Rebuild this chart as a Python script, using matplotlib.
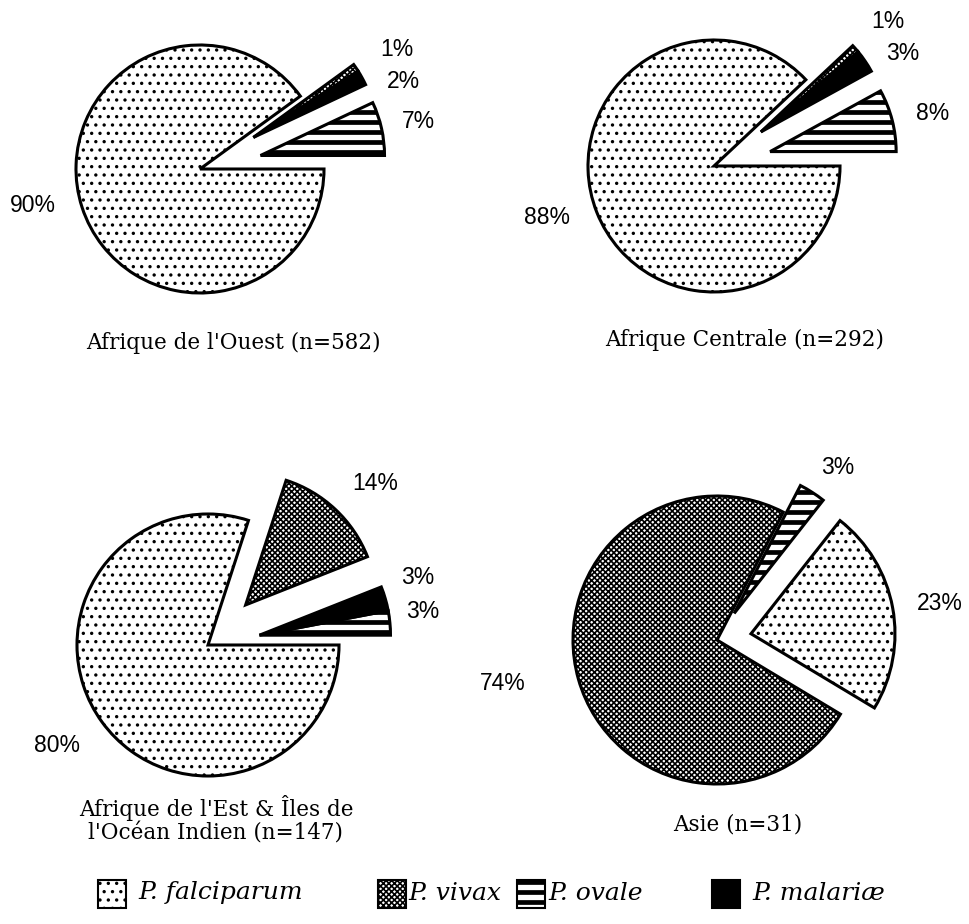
import numpy as np
import matplotlib.pyplot as plt
from matplotlib.patches import Rectangle

W, H = 969, 924

plt.rcParams['hatch.linewidth'] = 1.2

# species and their fill style
species = ['P. falciparum', 'P. vivax', 'P. ovale', 'P. malariæ']
hatch = {'P. falciparum': '..', 'P. vivax': 'xxxxxx', 'P. ovale': '', 'P. malariæ': ''}
face = {'P. falciparum': 'white', 'P. vivax': 'white', 'P. ovale': 'white', 'P. malariæ': 'black'}

# percentages per region (counter-clockwise order of the slices)
ouest_names = ['P. ovale', 'P. malariæ', 'P. vivax', 'P. falciparum']
ouest_pct = [7, 2, 1, 90]
centrale_names = ['P. ovale', 'P. malariæ', 'P. vivax', 'P. falciparum']
centrale_pct = [8, 3, 1, 88]
est_names = ['P. ovale', 'P. malariæ', 'P. vivax', 'P. falciparum']
est_pct = [3, 3, 14, 80]
asie_names = ['P. falciparum', 'P. ovale', 'P. vivax']
asie_pct = [23, 3, 74]

titles = ["Afrique de l'Ouest (n=582)",
          "Afrique Centrale (n=292)",
          "Afrique de l'Est & Îles de\nl'Océan Indien (n=147)",
          "Asie (n=31)"]

# layout in pixels (x from left, y from top)
layouts = [
    dict(center=(200, 169), r=124, start=0,
         groups=[1, 2, 2, 0], explode={1: 0.5, 2: 0.5},
         labels=[(418, 122), (403, 82), (397, 50), (33, 205)], title=(233, 343)),
    dict(center=(714, 166), r=126, start=0,
         groups=[1, 2, 2, 0], explode={1: 0.46, 2: 0.46},
         labels=[(933, 113), (903, 53), (888, 22), (547, 217)], title=(745, 340)),
    dict(center=(208, 645), r=131, start=0,
         groups=[1, 1, 2, 0], explode={1: 0.4, 2: 0.42},
         labels=[(423, 612), (418, 577), (375, 483), (57, 745)], title=(216, 820)),
    dict(center=(717, 640), r=144, start=-31,
         groups=[1, 2, 0], explode={1: 0.24, 2: 0.22},
         labels=[(940, 603), (838, 467), (503, 683)], title=(738, 825)),
]

fig = plt.figure(figsize=(W / 100, H / 100), dpi=100)
ax = fig.add_axes([0, 0, 1, 1])


def stripes(p):
    # thick horizontal bars for P. ovale, clipped to the patch outline
    bb = p.get_path().transformed(p.get_patch_transform()).get_extents()
    ys = np.arange(np.floor(bb.y0 / 10) * 10 + 2, bb.y1 + 10, 10)
    ln = ax.hlines(ys, bb.x0 - 5, bb.x1 + 5, colors='black', linewidth=3.4, zorder=p.get_zorder())
    ln.set_clip_path(p)


def style(p, name):
    p.set_facecolor(face[name])
    p.set_edgecolor('black')
    p.set_hatch(hatch[name])
    if name == 'P. ovale':
        stripes(p)


def draw_pie(names, pct, lay, title):
    cx, cy = lay['center']
    r = lay['r']
    wedges, _ = ax.pie(pct, startangle=lay['start'], counterclock=True,
                       center=(cx, H - cy), radius=r, frame=True,
                       wedgeprops=dict(linewidth=2.2, joinstyle='miter'))
    groups = lay['groups']
    for g, e in lay['explode'].items():
        members = [w for w, gg in zip(wedges, groups) if gg == g]
        t1 = min(w.theta1 for w in members)
        t2 = max(w.theta2 for w in members)
        mid = np.deg2rad((t1 + t2) / 2)
        for w in members:
            w.set_center((cx + e * r * np.cos(mid), H - cy + e * r * np.sin(mid)))
    for w, n in zip(wedges, names):
        style(w, n)
    for v, (lx, ly) in zip(pct, lay['labels']):
        ax.text(lx, H - ly, f'{v}%', ha='center', va='center',
                fontsize=16.5, family='Liberation Sans')
    tx, ty = lay['title']
    ax.text(tx, H - ty, title, ha='center', va='center', fontsize=15.5,
            family='DejaVu Serif', linespacing=1.1)


draw_pie(ouest_names, ouest_pct, layouts[0], titles[0])
draw_pie(centrale_names, centrale_pct, layouts[1], titles[1])
draw_pie(est_names, est_pct, layouts[2], titles[2])
draw_pie(asie_names, asie_pct, layouts[3], titles[3])

# legend row along the bottom
legend_keys = [(98, 'P. falciparum', 138), (378, 'P. vivax', 408),
               (517, 'P. ovale', 548), (712, 'P. malariæ', 752)]
for kx, name, txt_x in legend_keys:
    box = Rectangle((kx, H - 908), 28, 28, linewidth=1.5)
    ax.add_patch(box)
    style(box, name)
    ax.text(txt_x, H - 893, name, ha='left', va='center', fontsize=18,
            family='DejaVu Serif', style='italic')

ax.set_xlim(0, W)
ax.set_ylim(0, H)
ax.set_aspect('equal')
ax.axis('off')
fig.savefig('out.png', dpi=100, facecolor='white')
